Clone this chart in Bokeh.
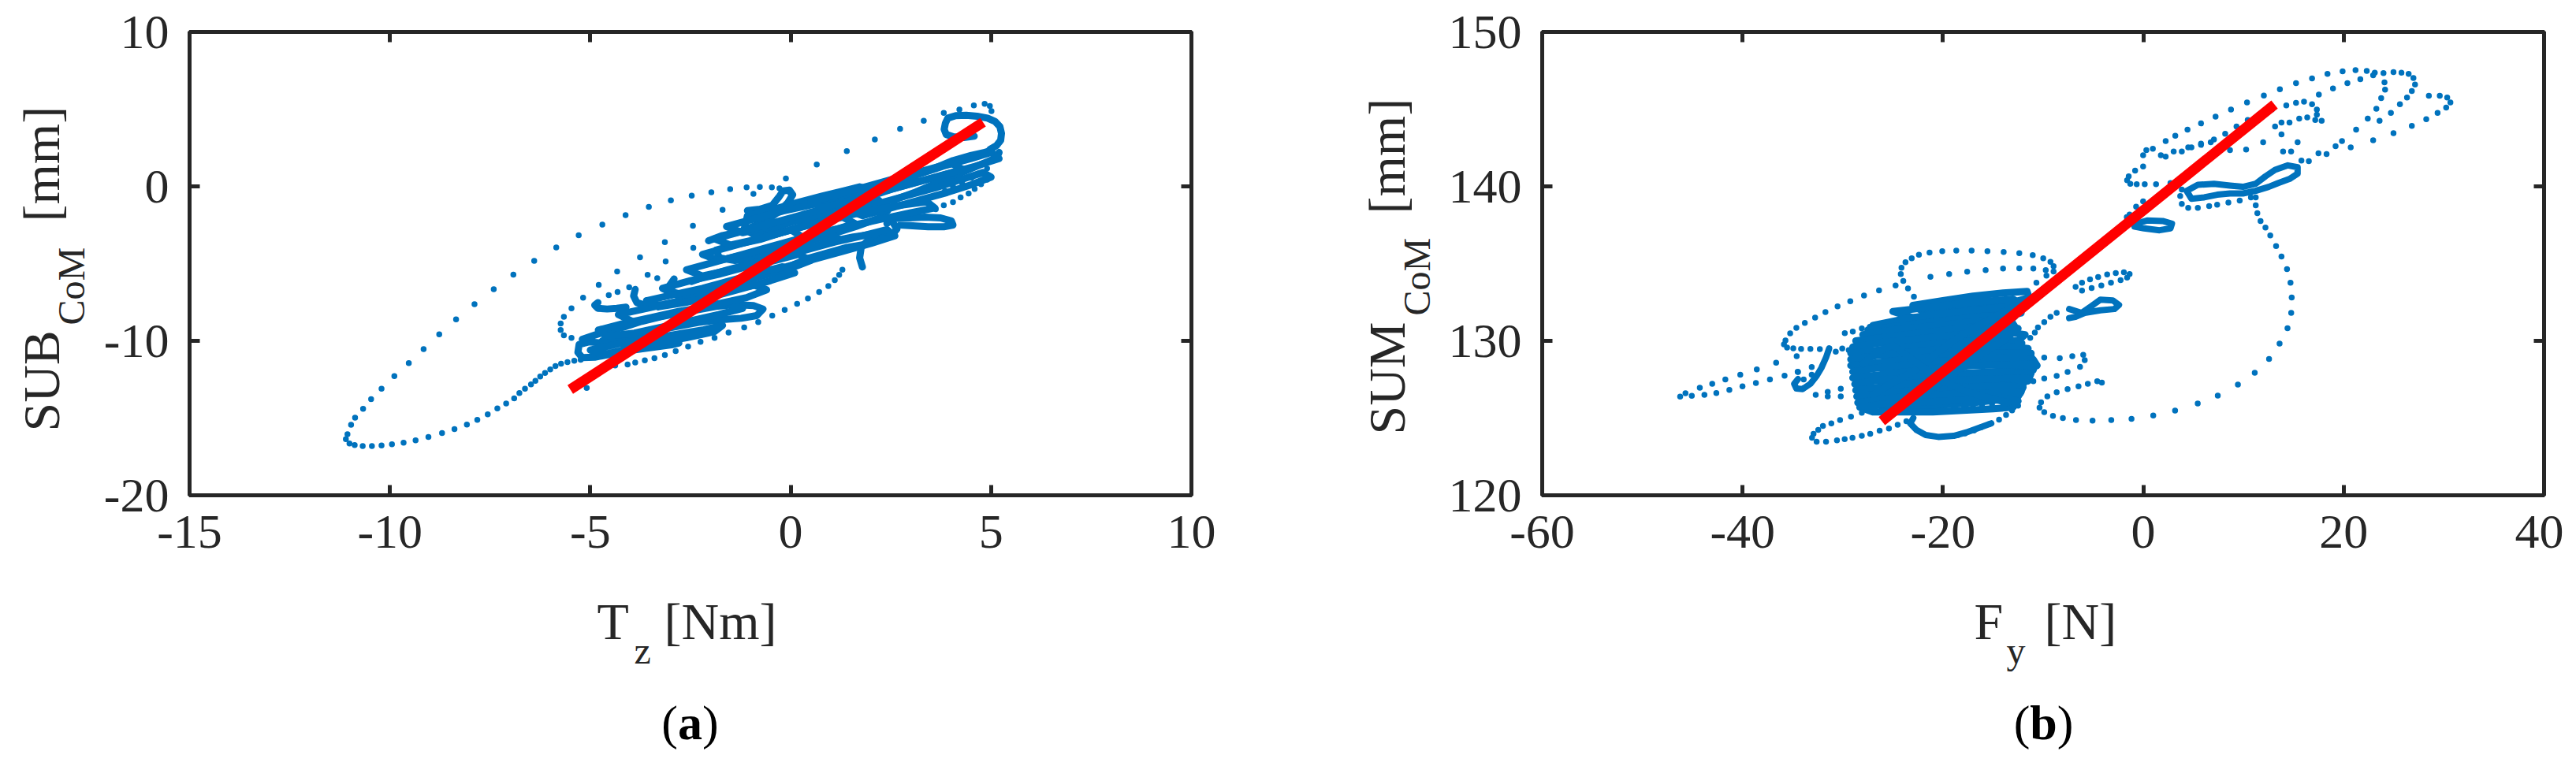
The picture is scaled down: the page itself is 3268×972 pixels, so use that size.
import math
from bokeh.plotting import figure
from bokeh.models import Range1d, LinearAxis, FixedTicker, Label, GridBox, CustomLabelingPolicy
from bokeh.layouts import row
from bokeh.embed import file_html
from bokeh.resources import INLINE

BLUE = "#0072BD"
RED = "#FF0000"
AX = "#262626"
FONT = "Liberation Serif"

# ---------------- panel (a): SUB_CoM vs T_z ----------------
a_xticks = [-15, -10, -5, 0, 5, 10]
a_yticks = [-20, -10, 0, 10]
a_fit_x = [-5.5, 4.8]
a_fit_y = [-13.15, 4.15]

a_lower_arc = [(-11.06, -16.04), (-11.10, -16.37), (-11.01, -16.64), (-10.88, -16.75), (-10.68, -16.81),
               (-10.45, -16.81), (-10.21, -16.77), (-9.95, -16.70), (-9.66, -16.59), (-9.36, -16.44),
               (-9.04, -16.22), (-8.70, -15.97), (-8.39, -15.71), (-8.08, -15.42), (-7.82, -15.11),
               (-7.56, -14.76), (-7.32, -14.38), (-7.10, -14.05), (-6.90, -13.72)]
a_tail = [(-6.77, -13.38), (-6.63, -13.10), (-6.48, -12.82), (-6.37, -12.59), (-6.25, -12.31), (-6.13, -12.08),
          (-6.00, -11.85), (-5.87, -11.63), (-5.73, -11.48), (-5.57, -11.38), (-5.40, -11.29), (-5.24, -11.22)]
a_upper_arc = [(-10.97, -15.44), (-10.87, -14.98), (-10.67, -14.40), (-10.47, -13.78), (-10.21, -13.10),
               (-9.89, -12.28), (-9.53, -11.44), (-9.16, -10.53), (-8.77, -9.58), (-8.35, -8.61),
               (-7.89, -7.63), (-7.41, -6.66), (-6.92, -5.71), (-6.40, -4.82), (-5.85, -3.96),
               (-5.29, -3.16), (-4.70, -2.48), (-4.12, -1.86), (-3.54, -1.33), (-2.99, -0.91),
               (-2.47, -0.60), (-1.98, -0.38), (-1.51, -0.18), (-1.10, -0.07), (-0.77, -0.04),
               (-0.47, -0.07), (-0.28, -0.13), (-0.12, -0.27), (-0.01, -0.44)]
a_diag = [(-0.12, 0.51), (0.65, 1.42), (1.40, 2.28), (2.10, 3.04), (2.73, 3.72), (3.32, 4.25),
          (3.82, 4.76), (4.21, 4.98), (4.57, 5.24), (4.84, 5.35), (4.97, 5.20), (5.01, 4.87)]
a_inner_loop = [(-0.93, -0.49), (-1.70, -1.52), (-2.44, -2.55), (-3.14, -3.61), (-3.76, -4.59), (-4.33, -5.51),
                (-4.79, -6.38), (-5.18, -7.21), (-5.47, -7.89), (-5.66, -8.45), (-5.74, -8.88), (-5.74, -9.30),
                (-5.66, -9.64), (-5.47, -9.81)]
a_inner_dots = [(-2.43, -3.98), (-3.12, -4.86), (-3.57, -5.73), (-3.33, -5.95), (-4.03, -6.53),
                (-4.32, -6.84), (-4.54, -7.04)]
a_low_dots = [(-5.09, -13.05), (-4.38, -11.60), (-4.07, -11.53), (-3.88, -11.40), (-3.64, -11.26),
              (-3.40, -11.12), (-3.14, -10.92), (-2.87, -10.66), (-2.56, -10.37), (-2.25, -10.07),
              (-1.90, -9.81), (-1.55, -9.47), (-1.16, -9.13), (-0.81, -8.79), (-0.46, -8.37),
              (-0.15, -8.00), (0.16, -7.60), (0.43, -7.26), (0.71, -6.84), (0.94, -6.46),
              (1.10, -6.07), (1.21, -5.73), (1.29, -5.39)]
a_right_dots = [(3.58, -0.63), (3.85, -0.29), (4.05, 0.00), (4.28, 0.22), (4.51, 0.56), (4.71, 0.85),
                (4.90, 1.16), (3.62, -1.48), (3.82, -1.23), (4.05, -1.02), (4.24, -0.71), (4.44, -0.46),
                (4.59, -0.17), (4.75, 0.14), (4.90, 0.44)]

# dense (touching-dot) strands of panel (a)
a_strands = [
    [(-5.28, -10.24), (-5.31, -10.75), (-5.20, -11.09), (-4.89, -11.06), (-4.42, -10.83), (-3.88, -10.58),
     (-3.41, -10.41), (-2.94, -10.24), (-2.79, -10.15), (-3.10, -10.07), (-3.64, -10.15), (-4.19, -10.15),
     (-4.65, -10.15), (-5.04, -10.07), (-5.28, -10.24)],
    [(-5.20, -9.90), (-4.81, -9.56), (-4.19, -9.13), (-3.72, -8.74), (-3.26, -8.45), (-2.79, -8.20),
     (-2.32, -7.99), (-1.86, -7.77), (-1.39, -7.65), (-0.93, -7.72), (-0.69, -7.94), (-0.85, -8.37),
     (-1.24, -8.54), (-1.70, -8.62), (-2.30, -8.80), (-2.90, -9.10), (-3.50, -9.40), (-4.10, -9.70),
     (-4.70, -10.00)],
    [(-2.79, -7.18), (-2.32, -6.84), (-1.70, -6.33), (-1.08, -5.90), (-0.46, -5.48), (0.01, -5.14),
     (0.47, -4.63), (0.94, -4.29), (1.41, -3.95), (1.79, -3.78)],
    [(-2.48, -6.16), (-2.01, -5.73), (-1.55, -5.39), (-0.93, -4.97), (-0.30, -4.63), (0.32, -4.12),
     (0.94, -3.61), (1.56, -3.27), (2.03, -3.10)],
    [(-2.05, -3.52), (-1.70, -3.18), (-1.24, -2.93), (-0.93, -2.59), (-0.54, -2.08), (-0.30, -1.65),
     (-0.07, -1.05), (0.05, -0.54), (-0.03, -0.24), (-0.19, -0.29), (-0.30, -0.71), (-0.46, -1.23),
     (-0.77, -1.48), (-1.08, -1.57)],
    [(-1.08, -1.91), (-0.54, -1.57), (0.16, -1.05), (0.78, -0.63), (1.33, -0.29), (1.72, -0.03),
     (1.95, -0.20), (1.79, -0.71), (1.33, -1.23), (0.71, -1.74), (0.09, -2.24), (-0.46, -2.76),
     (-0.93, -3.10), (-1.16, -2.76), (-1.08, -1.91)],
    [(-1.86, -4.12), (-1.39, -3.78), (-0.77, -3.44), (-0.15, -2.93), (0.47, -2.42), (1.10, -1.91),
     (1.64, -1.57), (2.11, -1.40), (2.42, -1.57), (2.18, -2.08), (1.64, -2.59), (1.02, -3.10),
     (0.40, -3.61), (-0.23, -4.12), (-0.85, -4.63), (-1.39, -4.80), (-1.78, -4.63), (-1.86, -4.12)],
    [(2.40, -2.40), (2.57, -2.08), (2.96, -2.04), (3.35, -1.99), (3.74, -2.04), (4.01, -2.24), (4.05, -2.50),
     (3.82, -2.62), (3.43, -2.62), (3.04, -2.55), (2.73, -2.50)],
    [(1.79, -5.22), (1.72, -4.63), (1.76, -3.95), (1.95, -3.44), (2.18, -3.18), (2.49, -3.27),
     (2.65, -2.76), (2.57, -2.42)],
    [(1.79, -0.54), (2.34, -0.03), (2.96, 0.65), (3.58, 1.16), (4.05, 1.67), (4.51, 2.01), (4.82, 2.18),
     (5.02, 2.35)],
    [(2.57, -0.88), (3.12, -0.37), (3.74, 0.31), (4.20, 0.82), (4.67, 1.33), (4.98, 1.67), (5.15, 1.90),
     (5.20, 2.20)],
    [(-4.81, -7.52), (-4.89, -7.69), (-4.81, -7.89), (-4.58, -7.94), (-4.34, -7.89), (-4.11, -7.82)],
    [(-3.88, -6.67), (-3.92, -7.09), (-3.84, -7.52), (-3.64, -7.69), (-3.41, -7.69), (-3.18, -7.65),
     (-2.94, -7.52)],
    [(-2.91, -5.99), (-3.02, -6.41), (-2.94, -6.84), (-2.71, -7.01), (-2.40, -6.92), (-2.17, -6.75)],
    [(4.58, 3.25), (4.32, 3.16), (4.06, 3.21), (3.88, 3.36), (3.83, 3.69), (3.86, 4.09), (3.92, 4.42),
     (4.12, 4.58), (4.38, 4.60), (4.65, 4.54), (4.91, 4.42), (5.10, 4.20), (5.22, 3.87), (5.26, 3.43),
     (5.24, 2.99), (5.14, 2.65), (4.97, 2.39)],
    [(-4.8, -9.3), (-4.2, -8.9), (-3.5, -8.5), (-2.8, -8.1), (-2.1, -7.8), (-1.5, -7.6), (-1.2, -7.9),
     (-1.8, -8.3), (-2.5, -8.7), (-3.2, -9.1), (-3.9, -9.5), (-4.6, -9.7), (-4.8, -9.3)],
    [(-4.3, -8.3), (-3.6, -7.9), (-2.9, -7.5), (-2.2, -7.1), (-1.5, -6.7), (-0.9, -6.4), (-0.6, -6.7),
     (-1.1, -7.2), (-1.8, -7.6), (-2.5, -8.0), (-3.2, -8.4), (-3.9, -8.8), (-4.3, -8.3)],
    [(-3.2, -6.6), (-2.5, -6.1), (-1.8, -5.7), (-1.1, -5.2), (-0.4, -4.8), (0.2, -4.4), (0.5, -4.8),
     (0.0, -5.3), (-0.7, -5.8), (-1.4, -6.3), (-2.1, -6.8), (-2.8, -7.1), (-3.2, -6.6)],
    [(-2.2, -4.4), (-1.5, -3.9), (-0.8, -3.4), (-0.1, -2.9), (0.6, -2.4), (1.3, -2.0), (1.6, -2.4),
     (1.0, -2.9), (0.3, -3.4), (-0.4, -3.9), (-1.1, -4.4), (-1.8, -4.8), (-2.2, -4.4)],
    [(-1.6, -2.6), (-0.9, -2.1), (-0.2, -1.6), (0.5, -1.2), (1.2, -0.8), (1.9, -0.5), (2.2, -0.9),
     (1.6, -1.4), (0.9, -1.8), (0.2, -2.2), (-0.5, -2.6), (-1.2, -3.0), (-1.6, -2.6)],
    [(-1.0, -5.0), (-0.3, -4.6), (0.4, -4.1), (1.1, -3.6), (1.8, -3.2), (2.4, -2.8), (2.6, -3.2),
     (2.0, -3.7), (1.3, -4.2), (0.6, -4.7), (-0.1, -5.2), (-0.7, -5.5), (-1.0, -5.0)],
    [(1.5, -1.6), (2.2, -1.1), (2.9, -0.6), (3.6, -0.1), (4.2, 0.4), (4.8, 0.9), (5.0, 0.6), (4.5, 0.1),
     (3.9, -0.4), (3.2, -0.9), (2.5, -1.4), (1.8, -1.9), (1.5, -1.6)],
    [(1.0, -0.9), (1.7, -0.4), (2.4, 0.2), (3.1, 0.7), (3.8, 1.3), (4.5, 1.8), (5.0, 2.2), (5.2, 1.8),
     (4.6, 1.3), (3.9, 0.8), (3.2, 0.3), (2.5, -0.2), (1.8, -0.8), (1.0, -0.9)],
    [(-5.0, -10.6), (-4.3, -10.2), (-3.6, -9.9), (-2.9, -9.6), (-2.2, -9.3), (-1.7, -9.0), (-1.9, -9.4),
     (-2.6, -9.8), (-3.3, -10.1), (-4.0, -10.5), (-4.7, -10.9), (-5.0, -10.6)],
    [(-3.6, -7.4), (-2.9, -7.0), (-2.2, -6.6), (-1.5, -6.1), (-0.8, -5.6), (-0.2, -5.2), (0.1, -5.6),
     (-0.5, -6.1), (-1.2, -6.6), (-1.9, -7.1), (-2.6, -7.5), (-3.3, -7.8), (-3.6, -7.4)],
    [(-2.6, -5.4), (-1.9, -4.9), (-1.2, -4.4), (-0.5, -3.9), (0.2, -3.4), (0.9, -3.0), (1.2, -3.4),
     (0.6, -3.9), (-0.1, -4.4), (-0.8, -4.9), (-1.5, -5.4), (-2.2, -5.8), (-2.6, -5.4)],
    [(-1.9, -3.4), (-1.2, -2.9), (-0.5, -2.4), (0.2, -1.9), (0.9, -1.4), (1.6, -1.0), (1.9, -1.4),
     (1.3, -1.9), (0.6, -2.4), (-0.1, -2.9), (-0.8, -3.4), (-1.5, -3.8), (-1.9, -3.4)],
    [(0.5, -1.0), (1.2, -0.5), (1.9, 0.0), (2.6, 0.5), (3.3, 1.0), (4.0, 1.5), (4.3, 1.1), (3.6, 0.6),
     (2.9, 0.1), (2.2, -0.4), (1.5, -0.9), (0.8, -1.4), (0.5, -1.0)],
    [(0.0, -2.8), (0.7, -2.3), (1.4, -1.9), (2.1, -1.5), (2.8, -1.2), (3.4, -1.0), (3.6, -1.4), (3.0, -1.7),
     (2.3, -2.1), (1.6, -2.5), (0.9, -2.9), (0.3, -3.3), (0.0, -2.8)],
]

# ---------------- panel (b): SUM_CoM vs F_y ----------------
b_xticks = [-60, -40, -20, 0, 20, 40]
b_yticks = [120, 130, 140, 150]
b_fit_x = [-26.1, 13.1]
b_fit_y = [124.8, 145.3]

b_tail = [(-46.23, 126.39), (-45.70, 126.61), (-45.07, 126.44), (-44.27, 126.96), (-43.03, 127.22),
          (-41.72, 127.50), (-40.23, 127.81), (-38.58, 128.15), (-36.65, 128.58), (-43.81, 126.50),
          (-42.62, 126.62), (-41.32, 126.82), (-40.01, 127.05), (-38.67, 127.27), (-37.27, 127.50),
          (-35.81, 127.74), (-34.47, 127.98)]
b_left_loop = [(-35.72, 130.02), (-35.87, 129.77), (-35.56, 129.56), (-34.94, 129.51), (-34.16, 129.48),
               (-33.23, 129.48), (-32.29, 129.46), (-30.70, 129.30), (-30.05, 129.50), (-29.40, 129.40),
               (-28.70, 129.40), (-29.80, 130.50), (-29.00, 130.60), (-28.10, 130.80), (-27.30, 130.90)]
b_left_scatter = [(-34.60, 129.00), (-34.50, 128.00), (-33.10, 128.30), (-33.10, 127.80), (-33.90, 127.50),
                  (-32.70, 126.50), (-31.50, 126.70), (-30.20, 126.90), (-31.50, 126.40), (-30.20, 126.40),
                  (-26.50, 131.00), (-25.07, 131.20), (-23.76, 131.46), (-22.71, 131.29)]
b_up_arc = [(-35.25, 130.48), (-34.63, 130.84), (-33.79, 131.16), (-32.76, 131.50), (-31.73, 131.86),
            (-30.52, 132.23), (-29.25, 132.57), (-27.88, 132.93), (-26.38, 133.27), (-24.73, 133.59)]
b_top_loop = [(-24.21, 134.32), (-24.14, 134.73), (-23.74, 135.09), (-23.12, 135.34), (-22.40, 135.58),
              (-21.34, 135.72), (-20.07, 135.80), (-18.67, 135.84), (-17.14, 135.84), (-15.56, 135.80),
              (-13.94, 135.75), (-12.38, 135.67), (-11.04, 135.55), (-9.99, 135.34), (-9.27, 135.12),
              (-8.96, 134.83), (-8.96, 134.49)]
b_top_inner = [(-21.25, 134.14), (-19.38, 134.32), (-17.58, 134.48), (-15.74, 134.58), (-14.00, 134.68),
               (-12.38, 134.70), (-10.98, 134.68), (-9.74, 134.58), (-9.67, 134.22), (-10.67, 133.76),
               (-22.90, 132.86), (-23.49, 133.39), (-23.96, 133.88)]
b_low_loop = [(-32.92, 123.98), (-33.07, 123.73), (-32.61, 123.47), (-31.67, 123.47), (-30.58, 123.56),
              (-29.81, 123.64), (-29.03, 123.73), (-28.10, 123.85), (-27.26, 123.98), (-26.32, 124.19),
              (-25.39, 124.32), (-24.52, 124.56), (-23.65, 124.80), (-32.45, 124.24), (-31.98, 124.49),
              (-31.14, 124.66), (-30.27, 124.87), (-29.18, 125.09), (-28.10, 125.34), (-27.16, 125.60)]
b_low_mid = [(-18.50, 123.90), (-17.80, 124.00), (-16.90, 124.20), (-16.20, 124.40), (-15.40, 124.60),
             (-14.40, 124.90), (-13.70, 125.20), (-13.10, 125.50), (-12.50, 125.80), (-17.90, 125.80),
             (-17.00, 125.80), (-16.10, 125.85), (-15.10, 125.90), (-14.00, 125.95), (-13.10, 126.00)]
b_mid_right = [(-13.01, 129.51), (-12.07, 129.85), (-11.29, 130.19), (-10.83, 130.53), (-10.52, 130.87),
               (-9.89, 131.21), (-9.27, 131.55), (-8.65, 131.81), (-11.14, 129.00), (-9.89, 128.92),
               (-8.34, 128.88), (-7.09, 129.00), (-6.00, 129.09), (-5.85, 128.75), (-6.32, 128.32),
               (-7.56, 127.98), (-8.65, 127.73), (-9.89, 127.56), (-10.98, 127.39)]
b_low_right = [(-4.14, 127.30), (-4.60, 127.39), (-5.54, 127.22), (-6.47, 127.05), (-7.56, 126.88),
               (-8.65, 126.67), (-9.58, 126.40), (-10.21, 126.02), (-10.36, 125.68), (-9.89, 125.38),
               (-9.02, 125.14)]
b_big_arc = [(-8.03, 125.00), (-6.72, 124.87), (-5.07, 124.83), (-3.20, 124.87), (-1.18, 124.95),
             (0.99, 125.17), (3.17, 125.48), (5.43, 125.95), (7.43, 126.46), (9.44, 127.17), (11.12, 127.94),
             (12.55, 128.83), (13.60, 129.82), (14.39, 130.82), (14.76, 131.81), (14.81, 132.81),
             (14.69, 133.76), (14.34, 134.64), (13.79, 135.46), (13.25, 136.14), (12.67, 136.82),
             (12.19, 137.33), (11.70, 137.76), (11.38, 138.27), (11.22, 138.78), (11.22, 139.29)]
b_upper_outer = [(2.23, 142.94), (3.19, 143.28), (4.41, 143.67), (5.76, 144.08), (7.21, 144.52),
                 (8.75, 144.98), (10.35, 145.44), (12.03, 145.88), (13.63, 146.29), (15.24, 146.68),
                 (16.84, 146.99), (18.38, 147.28), (19.89, 147.45), (21.18, 147.53), (22.30, 147.48),
                 (23.10, 147.36), (23.97, 147.33), (24.97, 147.40), (25.77, 147.36), (26.48, 147.28),
                 (26.96, 147.02), (27.12, 146.60), (26.80, 146.17)]
b_right_loop = [(28.50, 145.87), (29.59, 145.87), (30.33, 145.75), (30.65, 145.44), (30.23, 145.10),
                (29.37, 144.76), (28.24, 144.35), (26.80, 143.91), (24.97, 143.45), (22.94, 142.99),
                (20.70, 142.52), (18.29, 142.09), (17.48, 142.14)]
b_upper_inner = [(18.93, 146.34), (20.37, 146.68), (21.66, 146.94), (22.94, 147.19), (24.07, 146.73),
                 (24.13, 146.26), (23.74, 145.71), (23.26, 145.03), (22.40, 144.39), (21.24, 143.67),
                 (19.83, 142.94), (19.19, 142.60), (26.32, 145.75), (25.61, 145.32), (24.71, 144.76),
                 (23.58, 144.25), (17.52, 145.95), (16.52, 141.63), (15.78, 141.67)]
b_upper_mid = [(-1.46, 140.65), (-1.62, 140.39), (-1.30, 140.17), (-0.66, 140.14), (0.14, 140.14),
               (1.27, 140.14), (2.71, 140.22), (-0.82, 141.02), (-0.02, 141.29), (-0.72, 138.69),
               (-0.02, 139.03), (-1.37, 138.18), (-1.65, 138.01), (-0.02, 142.01), (0.30, 142.35),
               (0.95, 142.43), (1.75, 142.01), (2.23, 141.92), (3.03, 142.26), (3.84, 142.26),
               (4.80, 142.52), (5.76, 142.69), (6.73, 142.86)]
b_upper_r3 = [(4.48, 142.52), (5.76, 142.77), (7.05, 143.03), (8.17, 143.40), (9.30, 143.88),
              (10.42, 144.30), (11.54, 144.64), (12.83, 144.98)]
b_upper_loop = [(14.27, 145.24), (15.24, 145.41), (16.04, 145.49), (16.84, 145.32), (17.32, 144.98),
                (17.32, 144.64), (17.80, 144.25), (17.16, 144.30), (16.36, 144.47), (15.56, 144.39),
                (14.59, 144.13), (13.79, 144.13), (13.15, 143.88), (13.79, 143.37), (15.40, 142.86),
                (11.96, 142.86), (10.26, 142.38), (8.65, 142.35), (13.95, 142.26), (14.75, 142.26)]
b_lower_dots = [(3.84, 139.80), (3.68, 139.37), (3.84, 138.86), (4.48, 138.61), (5.44, 138.61),
                (6.57, 138.72), (7.37, 138.81), (8.49, 138.95), (9.62, 139.08), (10.74, 139.29)]
b_loop_mid = [(-6.76, 133.50), (-6.12, 133.76), (-5.32, 133.98), (-4.51, 134.13), (-3.61, 134.30),
              (-2.75, 134.39), (-1.94, 134.44), (-1.37, 134.32), (-1.62, 134.10), (-2.27, 133.93),
              (-3.23, 133.76), (-4.19, 133.59), (-5.16, 133.42), (-6.12, 133.25)]

# heavily over-plotted loops of the central cluster of panel (b)
b_blob = [
    [(-23.0, 132.3), (-20.0, 132.6), (-17.0, 132.9), (-14.0, 133.1), (-11.6, 133.2), (-11.4, 132.8),
     (-13.0, 132.5), (-16.0, 132.3), (-19.0, 132.1), (-22.0, 131.9), (-23.0, 132.3)],
    [(-25.0, 131.9), (-21.0, 132.2), (-17.0, 132.5), (-13.0, 132.7), (-12.3, 132.4), (-15.0, 132.0),
     (-19.0, 131.7), (-23.0, 131.5), (-25.0, 131.9)],
    [(-27.0, 131.0), (-24.0, 131.4), (-21.0, 131.7), (-18.0, 131.9), (-15.0, 132.1), (-12.5, 132.3),
     (-12.2, 131.8), (-14.0, 131.5), (-17.0, 131.3), (-20.0, 131.1), (-23.0, 130.9), (-26.0, 130.7),
     (-27.0, 131.0)],
    [(-27.5, 130.7), (-24.0, 131.0), (-20.0, 131.3), (-16.0, 131.6), (-12.8, 131.6), (-13.5, 131.2),
     (-17.0, 130.9), (-21.0, 130.7), (-25.0, 130.4), (-27.5, 130.7)],
    [(-28.0, 130.4), (-25.0, 130.7), (-22.0, 130.9), (-19.0, 131.1), (-16.0, 131.3), (-13.2, 131.3),
     (-12.8, 130.9), (-14.0, 130.6), (-17.0, 130.5), (-20.0, 130.4), (-23.0, 130.2), (-26.0, 130.0),
     (-28.0, 130.4)],
    [(-28.7, 130.0), (-25.0, 130.3), (-21.0, 130.6), (-17.0, 130.9), (-13.0, 130.9), (-13.5, 130.4),
     (-17.0, 130.2), (-21.0, 130.0), (-25.0, 129.8), (-28.7, 130.0)],
    [(-29.0, 129.6), (-26.0, 129.9), (-23.0, 130.1), (-20.0, 130.3), (-17.0, 130.5), (-14.0, 130.6),
     (-11.8, 130.4), (-12.5, 130.0), (-15.0, 129.8), (-18.0, 129.6), (-21.0, 129.5), (-24.0, 129.4),
     (-27.0, 129.3), (-29.0, 129.6)],
    [(-29.2, 129.2), (-25.0, 129.5), (-21.0, 129.8), (-17.0, 130.0), (-12.5, 130.0), (-13.0, 129.5),
     (-17.0, 129.3), (-21.0, 129.1), (-25.0, 129.0), (-29.2, 129.2)],
    [(-29.2, 128.8), (-26.0, 129.1), (-23.0, 129.3), (-20.0, 129.5), (-17.0, 129.6), (-14.0, 129.7),
     (-11.5, 129.5), (-12.0, 129.1), (-15.0, 128.9), (-18.0, 128.7), (-21.0, 128.6), (-24.0, 128.5),
     (-27.0, 128.5), (-29.2, 128.8)],
    [(-29.2, 128.4), (-25.0, 128.7), (-21.0, 129.0), (-17.0, 129.2), (-11.2, 129.2), (-11.5, 128.7),
     (-17.0, 128.5), (-21.0, 128.3), (-25.0, 128.2), (-29.2, 128.4)],
    [(-29.0, 128.0), (-26.0, 128.3), (-23.0, 128.5), (-20.0, 128.7), (-17.0, 128.8), (-14.0, 128.9),
     (-11.0, 128.8), (-10.6, 128.4), (-12.0, 128.1), (-15.0, 128.0), (-18.0, 127.9), (-21.0, 127.8),
     (-24.0, 127.7), (-27.0, 127.6), (-29.0, 128.0)],
    [(-29.0, 127.6), (-25.0, 127.9), (-21.0, 128.2), (-17.0, 128.4), (-10.8, 128.5), (-11.0, 128.1),
     (-17.0, 127.7), (-21.0, 127.5), (-25.0, 127.3), (-29.0, 127.6)],
    [(-28.8, 127.2), (-26.0, 127.5), (-23.0, 127.6), (-20.0, 127.8), (-17.0, 127.9), (-14.0, 128.0),
     (-11.2, 127.9), (-11.5, 127.4), (-14.0, 127.2), (-17.0, 127.1), (-20.0, 127.0), (-23.0, 126.9),
     (-26.0, 126.8), (-28.8, 127.2)],
    [(-28.7, 126.8), (-25.0, 127.1), (-21.0, 127.4), (-17.0, 127.5), (-11.6, 127.6), (-12.0, 127.2),
     (-17.0, 126.8), (-21.0, 126.6), (-25.0, 126.5), (-28.7, 126.8)],
    [(-28.6, 126.4), (-26.0, 126.6), (-23.0, 126.8), (-20.0, 126.9), (-17.0, 127.0), (-14.0, 127.1),
     (-12.0, 127.0), (-12.3, 126.6), (-14.0, 126.4), (-17.0, 126.3), (-20.0, 126.2), (-23.0, 126.1),
     (-26.0, 126.0), (-28.6, 126.4)],
    [(-28.5, 126.0), (-25.0, 126.3), (-21.0, 126.5), (-17.0, 126.6), (-12.2, 126.7), (-12.6, 126.3),
     (-17.0, 126.0), (-21.0, 125.8), (-25.0, 125.7), (-28.5, 126.0)],
    [(-28.3, 125.7), (-26.0, 125.9), (-23.0, 126.0), (-20.0, 126.1), (-17.0, 126.2), (-14.0, 126.3),
     (-12.5, 126.1), (-13.0, 125.7), (-15.0, 125.6), (-18.0, 125.5), (-21.0, 125.4), (-24.0, 125.4),
     (-27.0, 125.4), (-28.3, 125.7)],
    [(-27.0, 126.5), (-25.0, 127.3), (-23.0, 128.0), (-21.0, 129.0), (-19.0, 130.0), (-17.0, 130.8),
     (-15.0, 131.5), (-13.0, 132.2)],
    [(-24.0, 125.6), (-22.0, 126.5), (-20.0, 127.4), (-18.0, 128.3), (-16.0, 129.2), (-14.0, 130.0),
     (-12.5, 130.8)],
    [(-28.0, 128.5), (-26.5, 129.3), (-25.0, 129.7), (-23.5, 129.0), (-22.0, 128.3), (-20.0, 127.4),
     (-18.0, 126.8), (-16.0, 126.4), (-13.5, 126.0)],
]
b_strands = [
    [(-22.96, 125.00), (-23.27, 124.66), (-22.65, 124.24), (-21.72, 123.90), (-20.47, 123.78),
     (-18.92, 123.85), (-17.67, 124.07), (-16.43, 124.36), (-15.18, 124.66)],
    [(-31.36, 129.51), (-31.67, 128.92), (-32.14, 128.24), (-32.61, 127.73), (-33.23, 127.22),
     (-34.01, 126.88), (-34.63, 126.91), (-34.85, 127.22), (-34.47, 127.52)],
    [(-7.40, 132.06), (-6.16, 131.81), (-5.22, 132.23), (-4.29, 132.66), (-3.05, 132.62), (-2.43, 132.32),
     (-2.89, 132.06), (-4.29, 131.98), (-5.85, 131.81), (-6.78, 131.55), (-7.40, 131.47)],
    [(-0.71, 137.59), (0.37, 137.79), (1.93, 137.76), (2.86, 137.59), (2.71, 137.28), (1.62, 137.16),
     (0.06, 137.28), (-0.87, 137.39), (-0.71, 137.59)],
    [(4.32, 139.71), (5.44, 140.10), (7.05, 140.17), (8.65, 140.05), (9.94, 139.97), (11.22, 140.17),
     (12.19, 140.65), (13.15, 141.07), (14.43, 141.36), (15.40, 141.24), (15.40, 140.82), (14.59, 140.48),
     (13.47, 140.22), (12.51, 139.97), (11.22, 139.71), (9.94, 139.54), (8.65, 139.54), (7.37, 139.46),
     (6.08, 139.29), (4.80, 139.20), (4.32, 139.71)],
]

# ---------------- label texts (page-pixel anchors: baseline start, or centre for "(a)"/"(b)") ----------------
label_texts = [
    # text, x, y, size, rotated, align, bold
    ("T", 757, 809, 66, False, "left", False),
    ("z", 804, 840, 48, False, "left", False),
    ("[Nm]", 842, 809, 66, False, "left", False),
    ("SUB", 73, 547, 66, True, "left", False),
    ("CoM", 105, 412, 48, True, "left", False),
    ("[mm]", 73, 281, 66, True, "left", False),
    ("(", 859.5, 936, 62, False, "right", False),
    ("a", 875, 936, 62, False, "center", True),
    (")", 890.5, 936, 62, False, "left", False),
    ("F", 2504, 809, 66, False, "left", False),
    ("y", 2545, 840, 48, False, "left", False),
    ("[N]", 2593, 809, 66, False, "left", False),
    ("SUM", 1780, 551, 66, True, "left", False),
    ("CoM", 1812, 400, 48, True, "left", False),
    ("[mm]", 1780, 271, 66, True, "left", False),
    ("(", 2574.8, 936, 62, False, "right", False),
    ("b", 2592, 936, 62, False, "center", True),
    (")", 2609.2, 936, 62, False, "left", False),
]
DESCENT = 0.32  # bokeh places the "alphabetic" anchor this fraction of the font size below the true baseline


def split(groups):
    pts = [p for g in groups for p in g]
    return [p[0] for p in pts], [p[1] for p in pts]


def style_axis(ax, ticks, labels):
    ax.axis_line_color = None
    ax.major_tick_line_color = AX
    ax.major_tick_line_width = 5
    ax.major_tick_in = 13
    ax.major_tick_out = 0
    ax.minor_tick_line_color = None
    ax.major_label_text_font = FONT
    ax.major_label_text_color = AX
    if labels:
        ax.major_label_text_font_size = "62px"
        ax.major_label_standoff = 26
        ax.major_label_overrides = {t: str(t) for t in ticks}
    else:
        ax.major_label_text_font_size = "0px"
        ax.major_label_standoff = 0
        ax.major_label_policy = CustomLabelingPolicy(code="return new Set()")


def panel(xr, yr, xticks, yticks, bl, br):
    p = figure(frame_width=1271, frame_height=588, x_range=Range1d(*xr), y_range=Range1d(*yr),
               output_backend="svg", toolbar_location=None, x_axis_location=None, y_axis_location=None,
               min_border_left=bl, min_border_right=br, min_border_top=40, min_border_bottom=330,
               background_fill_color="white", border_fill_color="white")
    p.grid.visible = False
    p.outline_line_color = AX
    p.outline_line_width = 5
    for loc, ticks, lab in (("below", xticks, True), ("above", xticks, False)):
        ax = LinearAxis(ticker=FixedTicker(ticks=ticks))
        style_axis(ax, ticks, lab)
        p.add_layout(ax, loc)
    for loc, ticks, lab in (("left", yticks, True), ("right", yticks, False)):
        ax = LinearAxis(ticker=FixedTicker(ticks=ticks))
        style_axis(ax, ticks, lab)
        p.add_layout(ax, loc)
    return p


def strands(p, lines, width):
    p.multi_line([[q[0] for q in s] for s in lines], [[q[1] for q in s] for s in lines],
                 line_color=BLUE, line_width=width, line_join="round", line_cap="round")


pa = panel((-15, 10), (-20, 10), a_xticks, a_yticks, 240, 189)
xs, ys = split([a_lower_arc, a_tail, a_upper_arc, a_diag, a_inner_loop, a_inner_dots, a_low_dots, a_right_dots])
pa.scatter(xs, ys, size=7.5, fill_color=BLUE, line_color=None)
strands(pa, a_strands, 9)
pa.line(a_fit_x, a_fit_y, line_color=RED, line_width=13)

pb = panel((-60, 40), (120, 150), b_xticks, b_yticks, 256, 25)
xs, ys = split([b_tail, b_left_loop, b_left_scatter, b_up_arc, b_top_loop, b_top_inner, b_low_loop, b_low_mid,
                b_mid_right, b_low_right, b_big_arc, b_upper_outer, b_right_loop, b_upper_inner, b_upper_mid,
                b_upper_r3, b_upper_loop, b_lower_dots, b_loop_mid])
pb.scatter(xs, ys, size=7.5, fill_color=BLUE, line_color=None)
strands(pb, b_blob, 9)
strands(pb, b_strands, 8)
pb.line(b_fit_x, b_fit_y, line_color=RED, line_width=13)

# transparent text layer over both panels (labels with subscripts)
W = 1700 + 1552
H = 958
pt = figure(width=W, height=H, x_range=Range1d(0, W), y_range=Range1d(H, 0), output_backend="svg",
            toolbar_location=None, x_axis_location=None, y_axis_location=None, min_border=0)
pt.grid.visible = False
pt.outline_line_color = None
pt.background_fill_alpha = 0
pt.border_fill_alpha = 0
for text, x, y, size, rot, align, bold in label_texts:
    if rot:
        x = x - DESCENT * size
    else:
        y = y - DESCENT * size
    pt.add_layout(Label(x=x, y=y, text=text, text_font=FONT, text_font_size=f"{size}px",
                        angle=math.pi / 2 if rot else 0.0, text_align=align, text_baseline="alphabetic",
                        text_font_style="bold" if bold else "normal",
                        text_color="black" if text in ("(", ")", "a", "b") else AX))

layout = GridBox(children=[(row(pa, pb), 0, 0), (pt, 0, 0)])
open("out.html", "w").write(file_html(layout, INLINE))
